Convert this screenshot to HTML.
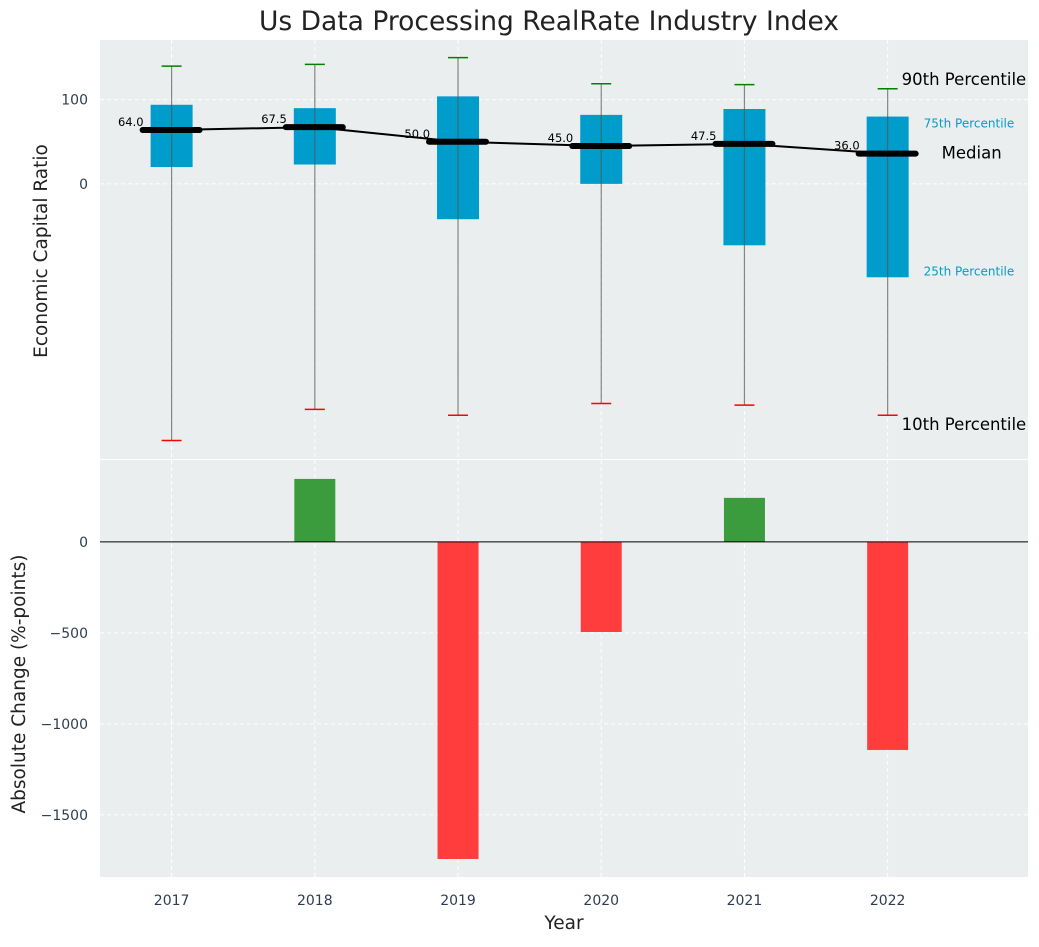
<!DOCTYPE html>
<html><head><meta charset="utf-8"><style>
body{margin:0;background:#fff;font-family:"Liberation Sans","DejaVu Sans",sans-serif;}
</style></head><body>
<svg id="c" width="1039" height="942" xmlns="http://www.w3.org/2000/svg" font-family="DejaVu Sans, Liberation Sans, sans-serif"></svg>
<script>
const years=["2017","2018","2019","2020","2021","2022"];
const p10=[-305,-268,-275,-261,-263,-275];
const p25=[20,23,-42,0,-73,-111];
const p50=[64,67.5,50,45,47.5,36];
const p75=[94,90,104,82,89,80];
const p90=[140,142,150,119,118,113];
const changes=[0,346,-1742,-495,242,-1143];
const topTicks=[100,0];
const botTicks=[0,-500,-1000,-1500];

const svg=document.getElementById('c');
const NS='http://www.w3.org/2000/svg';
function mk(t,a,txt){const e=document.createElementNS(NS,t);for(const k in a)e.setAttribute(k,a[k]);if(txt!==undefined)e.textContent=txt;svg.appendChild(e);return e;}
const L=100,R=1028;
const x=i=>L+(i+0.5)*(R-L)/6.48;
const T1=40,B1=459,ymax1=171,ymin1=-327;
const y1=v=>T1+(ymax1-v)/(ymax1-ymin1)*(B1-T1);
const T2=460,B2=877,ymax2=450,ymin2=-1841;
const y2=v=>T2+(ymax2-v)/(ymax2-ymin2)*(B2-T2);

let e=mk('rect',{x:L,y:T1,width:R-L,height:B1-T1,fill:'#ebeeee'});

e=mk('rect',{x:L,y:T2,width:R-L,height:B2-T2,fill:'#ebeeee'});


years.forEach((yr,i)=>{
 e=mk('line',{x1:x(i),x2:x(i),y1:T1,y2:B1,stroke:'#fff','stroke-dasharray':'4,3'});
 
 e=mk('line',{x1:x(i),x2:x(i),y1:T2,y2:B2,stroke:'#fff','stroke-dasharray':'4,3'});
 
 e=mk('text',{x:x(i),y:905,'text-anchor':'middle','font-size':14,fill:'#2e3e50'},yr);
 
});
topTicks.forEach(t=>{
 e=mk('line',{x1:L,x2:R,y1:y1(t),y2:y1(t),stroke:'#fff','stroke-dasharray':'4,3'});
 
 e=mk('text',{x:88,y:y1(t)+5,'text-anchor':'end','font-size':14,fill:'#2e3e50'},String(t));
 
});
botTicks.forEach(t=>{
 e=mk('line',{x1:L,x2:R,y1:y2(t),y2:y2(t),stroke:'#fff','stroke-dasharray':'4,3'});
 
 e=mk('text',{x:88,y:y2(t)+5,'text-anchor':'end','font-size':14,fill:'#2e3e50'},String(t).replace('-','\u2212'));
 
});

years.forEach((yr,i)=>{
 e=mk('rect',{x:x(i)-21,y:y1(p75[i]),width:42,height:y1(p25[i])-y1(p75[i]),fill:'#009ccc'});
 
 e=mk('line',{x1:x(i),x2:x(i),y1:y1(p90[i]),y2:y1(p10[i]),stroke:'#555','stroke-width':1.2,'stroke-opacity':0.7});
 
 e=mk('line',{x1:x(i)-10,x2:x(i)+10,y1:y1(p90[i]),y2:y1(p90[i]),stroke:'green','stroke-width':1.5});
 
 e=mk('line',{x1:x(i)-10,x2:x(i)+10,y1:y1(p10[i]),y2:y1(p10[i]),stroke:'red','stroke-width':1.5});
 
});
e=mk('polyline',{points:years.map((_,i)=>x(i)+','+y1(p50[i])).join(' '),fill:'none',stroke:'#000','stroke-width':2});

years.forEach((yr,i)=>{
 e=mk('line',{x1:x(i)-29,x2:x(i)+28,y1:y1(p50[i]),y2:y1(p50[i]),stroke:'#000','stroke-width':6,'stroke-linecap':'round'});
 
 e=mk('text',{x:x(i)-28,y:y1(p50[i])-4,'text-anchor':'end','font-size':11.5,fill:'#000'},p50[i].toFixed(1));
 
});
const li=5;
e=mk('text',{x:x(li)+14,y:y1(p90[li])-4,'font-size':16.5,fill:'#000'},'90th Percentile');

e=mk('text',{x:x(li)+36,y:y1(p75[li])+11,'font-size':12,fill:'#009ccc'},'75th Percentile');

e=mk('text',{x:x(li)+54,y:y1(p50[li])+5,'font-size':16.5,fill:'#000'},'Median');

e=mk('text',{x:x(li)+36,y:y1(p25[li])-2,'font-size':12,fill:'#009ccc'},'25th Percentile');

e=mk('text',{x:x(li)+14,y:y1(p10[li])+15,'font-size':16.5,fill:'#000'},'10th Percentile');


years.forEach((yr,i)=>{
 const v=changes[i];
 e=mk('rect',{x:x(i)-20.5,y:Math.min(y2(v),y2(0)),width:41,height:Math.abs(y2(v)-y2(0)),fill:v>=0?'#3a9c3d':'#ff3d3d'});
 
});
e=mk('line',{x1:L,x2:R,y1:y2(0),y2:y2(0),stroke:'#000','stroke-width':1});


e=mk('text',{x:549,y:30,'text-anchor':'middle','font-size':26.5,fill:'#222'},'Us Data Processing RealRate Industry Index');

e=mk('text',{x:47,y:251,'text-anchor':'middle','font-size':18.5,fill:'#222',transform:'rotate(-90 47 251)'},'Economic Capital Ratio');

e=mk('text',{x:25,y:684,'text-anchor':'middle','font-size':18.5,fill:'#222',transform:'rotate(-90 25 684)'},'Absolute Change (%-points)');

e=mk('text',{x:564,y:929,'text-anchor':'middle','font-size':18.5,fill:'#222'},'Year');

</script>
</body></html>
